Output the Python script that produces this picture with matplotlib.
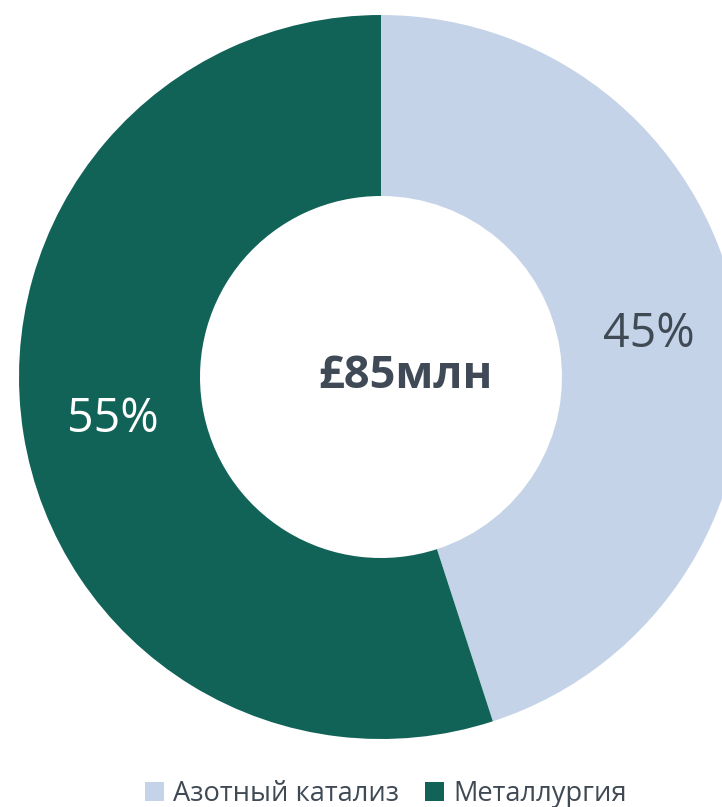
import matplotlib
matplotlib.use("Agg")
import matplotlib.pyplot as plt
from matplotlib.patches import Patch

plt.rcParams['font.family'] = ['Open Sans', 'DejaVu Sans']

categories = ["Азотный катализ", "Металлургия"]
values = [45, 55]
colors = ["#C5D3E8", "#116358"]
label_colors = ["#404A55", "#FFFFFF"]
center_text = "£85млн"

W, H = 722, 807
fig = plt.figure(figsize=(W / 100, H / 100), dpi=100)
ax = fig.add_axes([0, 0, 1, 1])

cx, cy = 381, H - 377
R = 362
wedges, texts, autotexts = ax.pie(
    values, colors=colors, startangle=90, counterclock=False,
    center=(cx, cy), radius=R, wedgeprops=dict(width=R * 0.5, linewidth=0),
    autopct='%.0f%%', pctdistance=0.75,
    textprops=dict(fontsize=33.5))
for t, c in zip(autotexts, label_colors):
    t.set_color(c)

ax.text(cx + 24, cy, center_text, ha='center', va='center', fontsize=32.5,
        fontweight='bold', color='#3F4A56')

ax.set_xlim(0, W)
ax.set_ylim(0, H)
ax.set_aspect('auto')
ax.axis('off')

handles = [Patch(facecolor=c, edgecolor='none') for c in colors]
fig.legend(handles, categories, loc='center', bbox_to_anchor=(386 / W, 1 - 794 / H),
           ncol=2, frameon=False, fontsize=19.6, handlelength=0.7, handleheight=0.7,
           handletextpad=0.35, columnspacing=0.95, labelcolor='#404A55',
           borderaxespad=0, borderpad=0)

fig.savefig("out.png", dpi=100)
